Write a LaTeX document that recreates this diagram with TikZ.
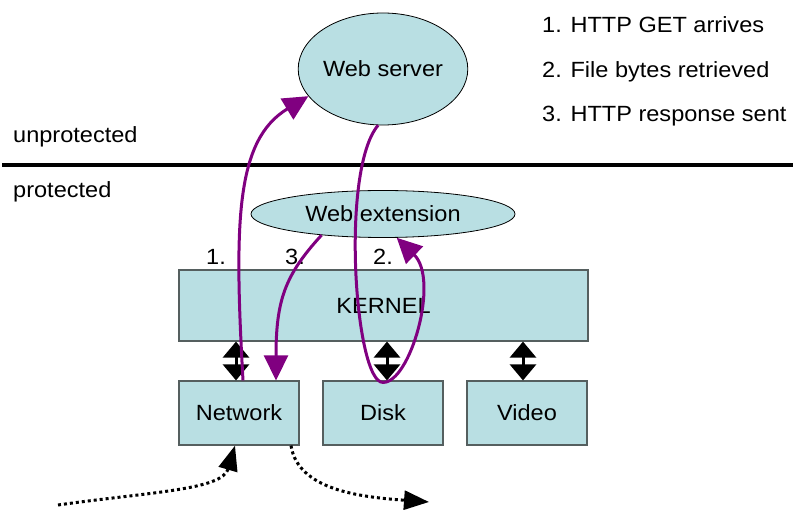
\documentclass[tikz,border=0pt]{standalone}
\usepackage{fontspec}
\setmainfont[FakeStretch=1.07]{Liberation Sans}
\usetikzlibrary{shapes.geometric,arrows.meta}
\definecolor{boxfill}{RGB}{185,223,227}
\definecolor{boxline}{RGB}{85,95,95}
\definecolor{flow}{RGB}{128,0,128}
\begin{document}
\begin{tikzpicture}[x=1pt,y=-1pt,
  every node/.style={font=\fontsize{22}{26}\selectfont},
  oval/.style={ellipse,draw=black,line width=0.8pt,fill=boxfill,inner sep=0pt},
  unit/.style={rectangle,draw=boxline,line width=1.2pt,fill=boxfill,inner sep=0pt},
  txt/.style={anchor=base west,inner sep=0pt},
  flowarrow/.style={draw=flow,line width=3pt,-{Triangle[length=25pt,width=24pt]}},
  link/.style={draw=black,line width=3pt,{Triangle[length=16pt,width=26pt]}-{Triangle[length=16pt,width=26pt]}},
  dotarrow/.style={draw=black,line width=3pt,dash pattern=on 3pt off 3pt,-{Triangle[length=25pt,width=19pt]}}]
\useasboundingbox (0,0) rectangle (793,510);

% separator
\draw[line width=4pt] (2,165) -- (793,165);
\node[txt] (unp) at (13,143) {unprotected};
\node[txt] (pro) at (13,198) {protected};

% legend
\node[txt] (l1) at (542,33) {1. HTTP GET arrives};
\node[txt] (l2) at (542,78) {2. File bytes retrieved};
\node[txt] (l3) at (542,122) {3. HTTP response sent};

% main shapes
\node[oval,minimum width=152pt,minimum height=112pt] (ws) at (383,69) {Web server};
\node[oval,minimum width=264pt,minimum height=47pt] (we) at (383,214) {Web extension};
\node[unit,minimum width=409pt,minimum height=71pt] (kernel) at (383.5,305.5) {KERNEL};
\node[unit,minimum width=120pt,minimum height=64pt] (net) at (239,413) {Network};
\node[unit,minimum width=120pt,minimum height=64pt] (disk) at (383,413) {Disk};
\node[unit,minimum width=120pt,minimum height=64pt] (video) at (527,413) {Video};

% step numbers
\node[txt] (n1) at (206,265) {1.};
\node[txt] (n3) at (285,265) {3.};
\node[txt] (n2) at (373,265) {2.};

% kernel links
\draw[link] ([xshift=-3pt]net.north |- kernel.south) -- ([xshift=-3pt]net.north);
\draw[link] ([xshift=4pt]disk.north |- kernel.south) -- ([xshift=4pt]disk.north);
\draw[link] ([xshift=-4pt]video.north |- kernel.south) -- ([xshift=-4pt]video.north);

% flows
\draw[flowarrow] ([xshift=4pt]net.north) .. controls (234,220) and (236,140) .. (ws.200);
\draw[flowarrow] (ws.265) .. controls (340,170) and (355,383) .. ([yshift=-2pt]disk.north)
  .. controls (410,383) and (440,280) .. (we.-60);
\draw[flowarrow] (we.199) .. controls (285,275) and (276,300) .. ([xshift=37pt]net.north);

% outside traffic
\coordinate (inpt) at (58,505);
\coordinate (outpt) at (429,502);
\draw[dotarrow] (inpt) .. controls (150,492) and (222,490) .. ([xshift=-4pt]net.south);
\draw[dotarrow] ([xshift=52pt]net.south) .. controls (298,490) and (360,497) .. (outpt);
\end{tikzpicture}
\end{document}
